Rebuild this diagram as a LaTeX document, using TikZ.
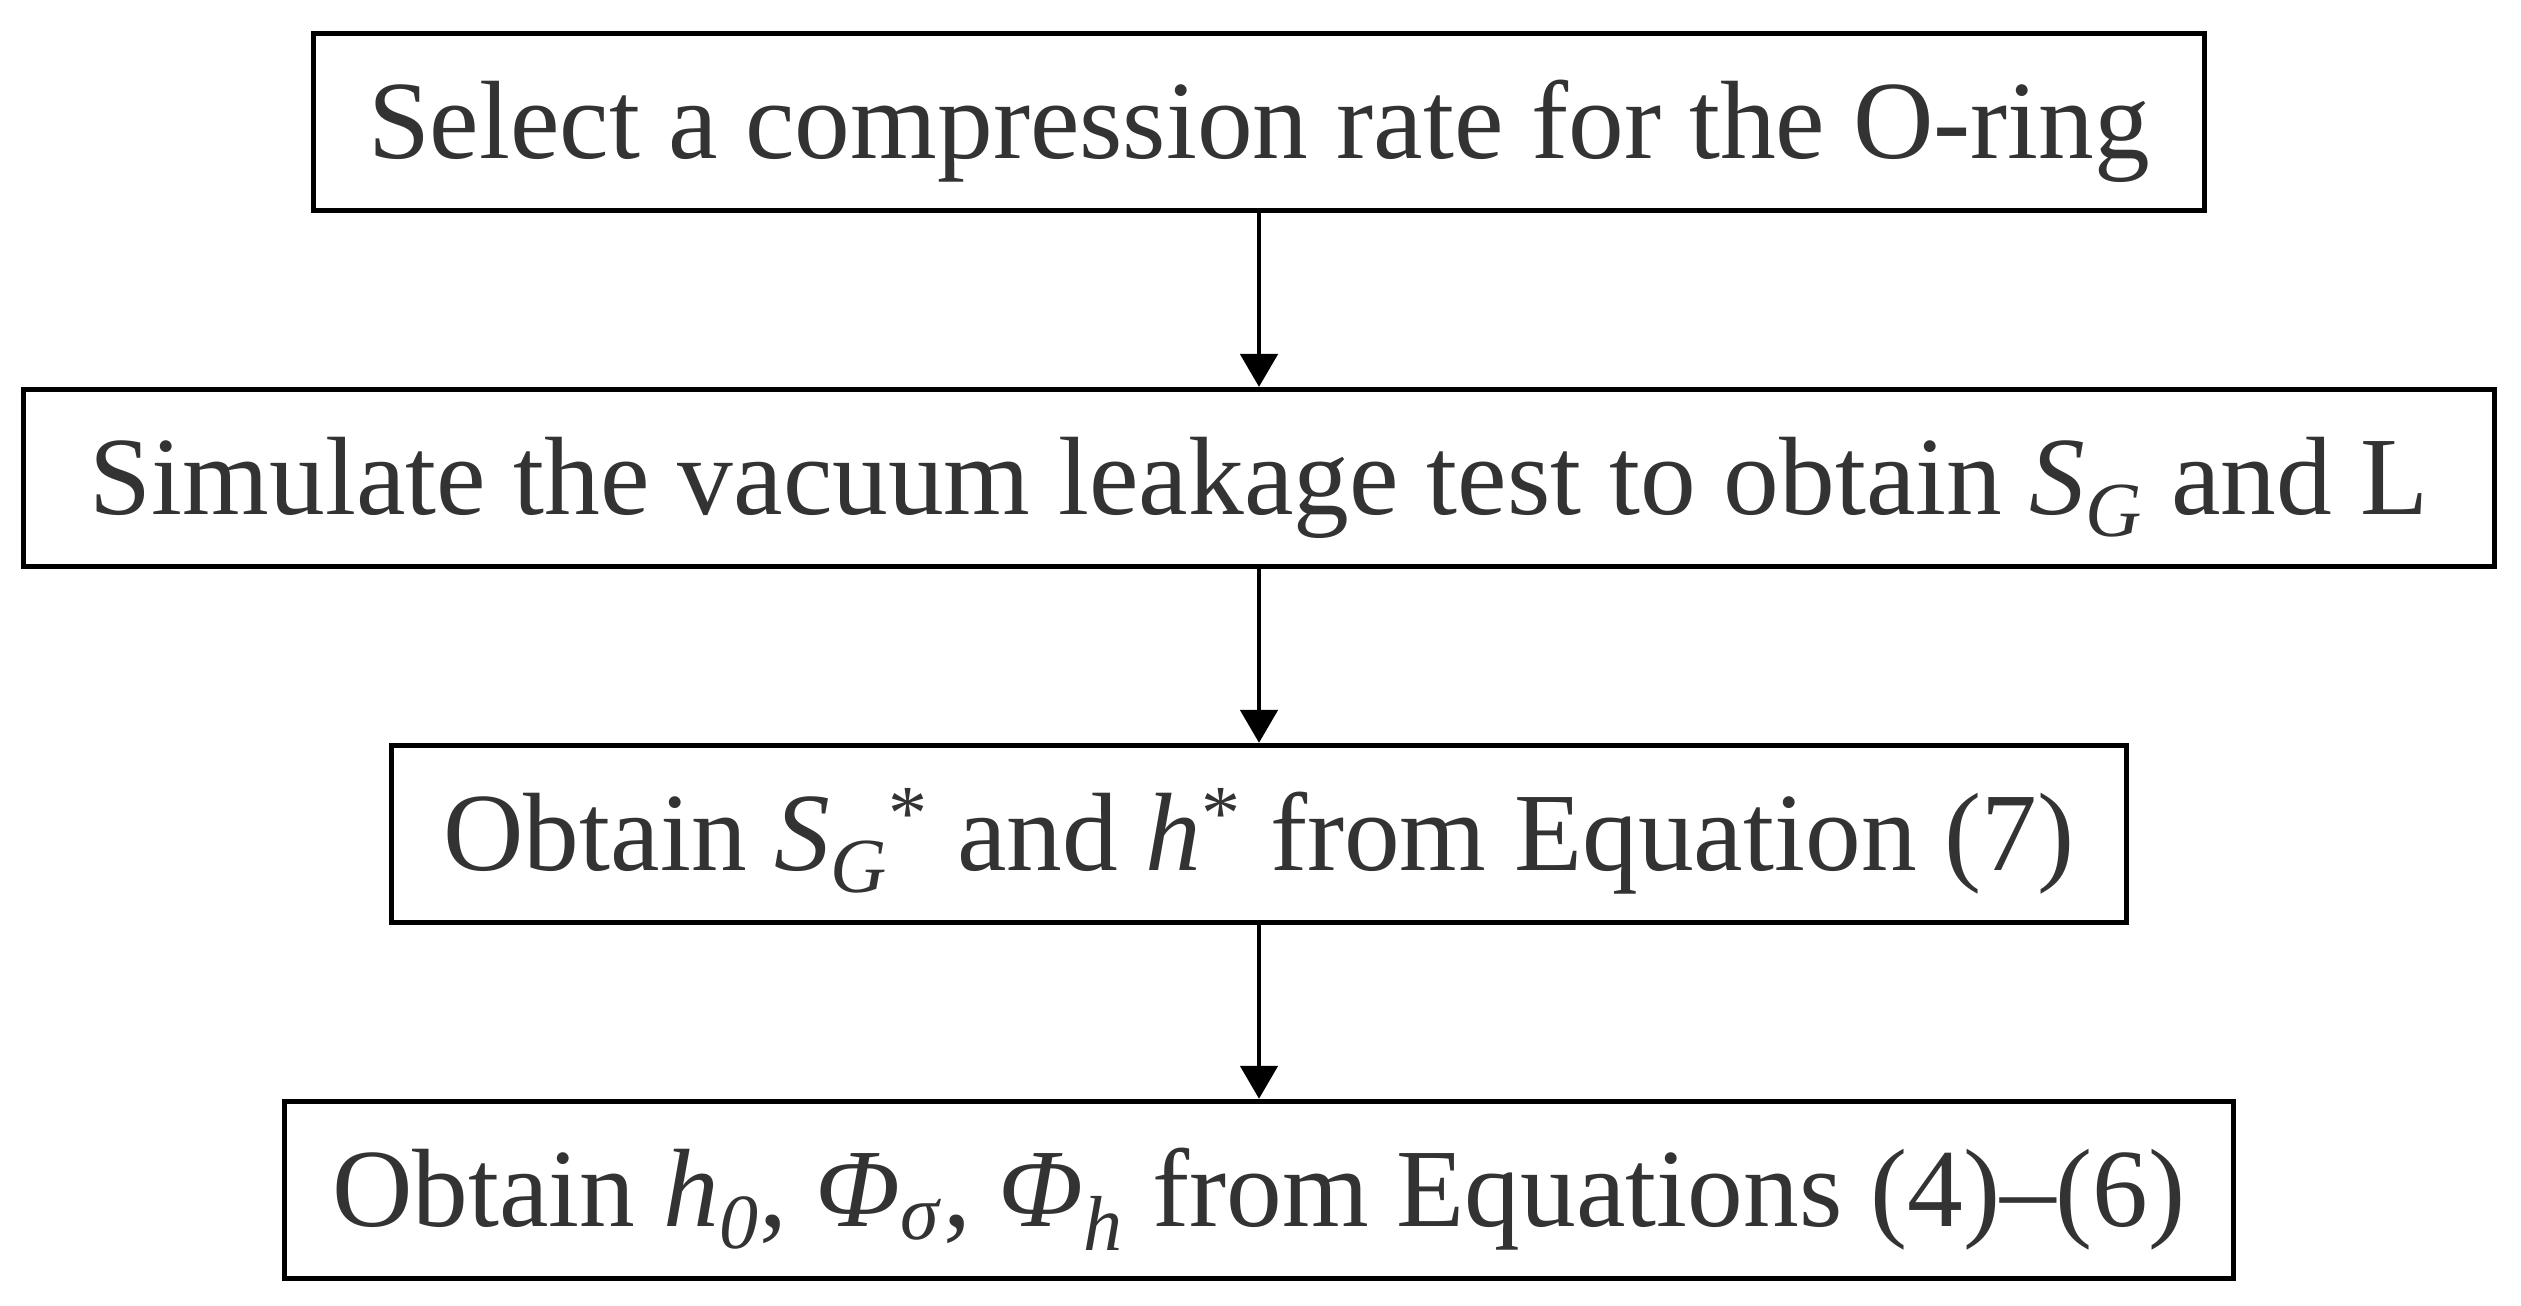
\documentclass[tikz,border=0pt]{standalone}
\usepackage{fontspec}
\setmainfont{Liberation Serif}
\usetikzlibrary{arrows.meta,positioning}
\definecolor{fctext}{RGB}{51,51,51}

\begin{document}
\begin{tikzpicture}[
  stepbox/.style={draw=black, line width=1.4pt, inner sep=0pt,
    minimum height=1.77cm, text height=0.74cm, text depth=0pt,
    text=fctext, font=\fontsize{31.7}{38}\selectfont},
  flowarrow/.style={line width=1.4pt, -{Triangle[length=3.3mm,width=3.7mm]}},
  node distance=1.74cm
]
\useasboundingbox (0,0) rectangle (25.21,13.05);
% Steps
\node[stepbox, minimum width=18.91cm] (select) at (12.59,11.83)
  {Select a compression rate for the O-ring};
\node[stepbox, minimum width=24.71cm, below=of select] (simulate)
  {Simulate the vacuum leakage test to obtain \textit{S}\textsubscript{\textit{G}} and L};
\node[stepbox, minimum width=17.35cm, below=of simulate] (obtainstar)
  {Obtain \textit{S}\textsubscript{\textit{G}}\textsuperscript{*} and \textit{h}\textsuperscript{*} from Equation (7)};
\node[stepbox, minimum width=19.49cm, below=of obtainstar] (obtainphi)
  {Obtain \textit{h}\textsubscript{\textit{0}}, \textit{Φ}\textsubscript{\textit{σ}}, \textit{Φ}\textsubscript{\textit{h}} from Equations (4)–(6)};
% Arrows
\draw[flowarrow] (select) -- (simulate);
\draw[flowarrow] (simulate) -- (obtainstar);
\draw[flowarrow] (obtainstar) -- (obtainphi);
\end{tikzpicture}
\end{document}
